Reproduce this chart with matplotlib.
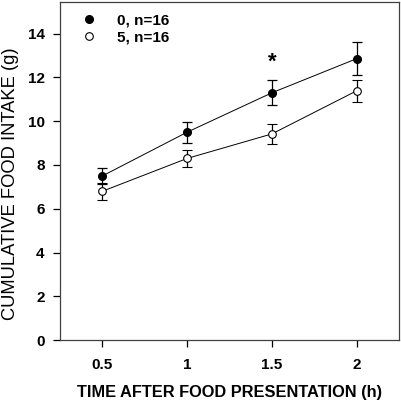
import matplotlib
matplotlib.use("Agg")
import matplotlib.pyplot as plt
from matplotlib.lines import Line2D

# datos
tiempo = [0.5, 1.0, 1.5, 2.0]
ctrl_media = [7.5, 9.5, 11.3, 12.86]
ctrl_err = [0.36, 0.48, 0.58, 0.75]
trat_media = [6.8, 8.3, 9.42, 11.39]
trat_err = [0.38, 0.37, 0.45, 0.51]
etiquetas = ["0, n=16", "5, n=16"]

plt.rcParams["font.family"] = ["Liberation Sans", "DejaVu Sans"]

fig = plt.figure(figsize=(4.01, 4.03), dpi=100)
ax = fig.add_axes([0.1496, 0.1563, 0.8454, 0.8387])

ax.errorbar(tiempo, ctrl_media, yerr=ctrl_err, fmt="-o", color="black",
            mfc="black", mec="black", ms=5.5, lw=0.7, elinewidth=0.9,
            capsize=3.3, capthick=0.9, zorder=3)
ax.errorbar(tiempo, trat_media, yerr=trat_err, fmt="-o", color="black",
            mfc="white", mec="black", ms=5.5, mew=0.8, lw=0.7, elinewidth=0.9,
            capsize=3.3, capthick=0.9, zorder=3)

# asterisco de significancia
ax.text(1.5, 12.7, "*", ha="center", va="center", fontsize=16, fontweight="bold")

ax.set_xlim(0.25, 2.25)
ax.set_ylim(0, 15.45)
ax.set_xticks(tiempo)
ax.set_xticklabels(["0.5", "1", "1.5", "2"], fontweight="bold")
ax.set_yticks(range(0, 15, 2))
ax.set_yticklabels([str(v) for v in range(0, 15, 2)], fontweight="bold")
ax.tick_params(direction="out", length=5, width=0.9, labelsize=11, pad=6)
ax.tick_params(axis="x", pad=8)
for s in ax.spines.values():
    s.set_linewidth(0.9)
    s.set_color("#404040")

fig.text(230 / 401, 1 - 393 / 403, "TIME AFTER FOOD PRESENTATION (h)", fontsize=11.8,
         fontweight="bold", ha="center", va="center")
fig.text(11 / 401, 1 - 184 / 403, "CUMULATIVE FOOD INTAKE (g)", fontsize=13.2,
         rotation=90, ha="center", va="center")

handles = [Line2D([], [], ls="", marker="o", ms=5.5, mfc="black", mec="black"),
           Line2D([], [], ls="", marker="o", ms=5.5, mfc="white", mec="black", mew=0.8)]
ax.legend(handles, etiquetas, loc="upper left", frameon=False, prop={"size": 11, "weight": "bold"},
          handlelength=1.0, handletextpad=1.3, borderaxespad=0.35, labelspacing=0.2,
          bbox_to_anchor=(0.03, 1.0))

fig.savefig("out.png", dpi=100)
